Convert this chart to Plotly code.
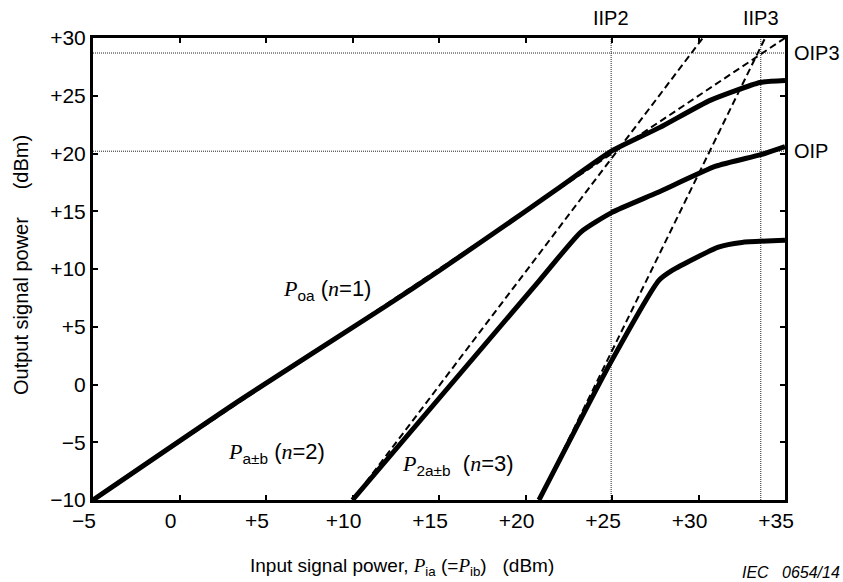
import plotly.graph_objects as go

# ---- data ----
n1_x = [-5, 3.5, 12.0, 15.05, 20.0, 22.0, 24.94, 27.77, 30.67, 33.56, 35.0]
n1_y = [-10, -1.35, 6.86, 9.89, 15.0, 17.1, 20.18, 22.26, 24.6, 26.15, 26.32]

n2_x = [10.0, 20.8, 23.2, 25.0, 27.6, 31.0, 33.6, 35.0]
n2_y = [-10, 9.0, 13.2, 14.9, 16.6, 18.9, 19.9, 20.6]

n3_x = [20.78, 24.9, 27.7, 28.5, 31.15, 32.5, 35.0]
n3_y = [-10, 1.85, 9.0, 9.9, 11.9, 12.3, 12.5]

ext1_x = [-5, 35]
ext1_y = [-10, 30]
ext2_x = [10.0, 30.25]
ext2_y = [-10, 30]
ext3_x = [20.78, 33.85]
ext3_y = [-10, 30]

iip2 = 24.95
iip3 = 33.6
oip = 20.2
oip3 = 28.7

x_ticks = [-5, 0, 5, 10, 15, 20, 25, 30, 35]
x_ticktext = ["\u22125", "0", "+5", "+10", "+15", "+20", "+25", "+30", "+35"]
y_ticks = [-10, -5, 0, 5, 10, 15, 20, 25, 30]
y_ticktext = ["\u221210", "\u22125", "0", "+5", "+10", "+15", "+20", "+25", "+30"]

x_range = [-5, 35]
y_range = [-10, 30]

FONT = "Liberation Sans, Arial, sans-serif"
SERIF = "Liberation Serif"

fig = go.Figure()

# reference dotted lines
dot = dict(color="#222222", width=1, dash="1px,1px")
fig.add_trace(go.Scatter(x=[iip2, iip2], y=y_range, mode="lines", line=dot, hoverinfo="skip"))
fig.add_trace(go.Scatter(x=[iip3, iip3], y=y_range, mode="lines", line=dot, hoverinfo="skip"))
fig.add_trace(go.Scatter(x=x_range, y=[oip, oip], mode="lines", line=dot, hoverinfo="skip"))
fig.add_trace(go.Scatter(x=x_range, y=[oip3, oip3], mode="lines", line=dot, hoverinfo="skip"))

# extrapolation dashed lines
dash = dict(color="black", width=2, dash="7px,4px")
for ex, ey in [(ext1_x, ext1_y), (ext2_x, ext2_y), (ext3_x, ext3_y)]:
    fig.add_trace(go.Scatter(x=ex, y=ey, mode="lines", line=dash, hoverinfo="skip",
                             cliponaxis=False))

# measured curves
solid = dict(color="black", width=5, shape="spline", smoothing=0.5)
for cx, cy in [(n1_x, n1_y), (n2_x, n2_y), (n3_x, n3_y)]:
    fig.add_trace(go.Scatter(x=cx, y=cy, mode="lines", line=solid, hoverinfo="skip"))

P = f"<span style=\"font-family:{SERIF}\"><i>P</i></span>"
N = f"<span style=\"font-family:{SERIF}\"><i>n</i></span>"

lab = dict(size=22)
ann = []
ann.append(dict(x=5.85, y=8.16, xref="x", yref="y", xanchor="left", yanchor="middle",
                text=f"{P}<sub>oa</sub> ({N}=1)", showarrow=False, font=lab))
ann.append(dict(x=2.7, y=-5.9, xref="x", yref="y", xanchor="left", yanchor="middle",
                text=f"{P}<sub>a\u00b1b</sub> ({N}=2)", showarrow=False, font=lab))
ann.append(dict(x=12.75, y=-7.0, xref="x", yref="y", xanchor="left", yanchor="middle",
                text=f"{P}<sub>2a\u00b1b</sub>  ({N}=3)", showarrow=False, font=lab))
ann.append(dict(x=iip2, y=1.0443, xref="x", yref="paper", yanchor="middle",
                text="IIP2", showarrow=False, font=dict(size=20)))
ann.append(dict(x=iip3, y=1.0443, xref="x", yref="paper", yanchor="middle",
                text="IIP3", showarrow=False, font=dict(size=20)))
ann.append(dict(x=1.0, y=oip3, xref="paper", yref="y", xanchor="left", xshift=7,
                text="OIP3", showarrow=False, font=dict(size=20)))
ann.append(dict(x=1.0, y=oip, xref="paper", yref="y", xanchor="left", xshift=7,
                text="OIP", showarrow=False, font=dict(size=20)))
ann.append(dict(x=0.446, y=-0.145, xref="paper", yref="paper", xanchor="center", yanchor="middle",
                text=f"Input signal power, {P}<sub>ia</sub> (={P}<sub>ib</sub>)   (dBm)",
                showarrow=False, font=dict(size=19)))
ann.append(dict(x=-0.103, y=0.508, xref="paper", yref="paper", xanchor="center", yanchor="middle",
                text="Output signal power     (dBm)", textangle=-90, showarrow=False,
                font=dict(size=20)))
ann.append(dict(x=1.083, y=-0.158, xref="paper", yref="paper", xanchor="right", yanchor="middle",
                text="<i>IEC   0654/14</i>", showarrow=False, font=dict(size=16)))

axis_common = dict(showgrid=False, zeroline=False, showline=True, linecolor="black", linewidth=3,
                   mirror="ticks", ticks="inside", ticklen=5, tickwidth=1.5, tickcolor="black",
                   tickfont=dict(size=21, color="black", family=FONT))

fig.update_layout(
    width=843, height=582,
    margin=dict(l=93, r=58, t=38, b=82),
    paper_bgcolor="white", plot_bgcolor="white",
    showlegend=False,
    font=dict(family=FONT, size=16, color="black"),
    annotations=ann,
    xaxis=dict(range=x_range, tickvals=x_ticks, ticktext=x_ticktext, ticklabelshift=-9,
               **axis_common),
    yaxis=dict(range=y_range, tickvals=y_ticks, ticktext=y_ticktext, **axis_common),
)

fig.write_html("out.html", config={"displayModeBar": False},
               post_script="document.body.style.margin='0';")
